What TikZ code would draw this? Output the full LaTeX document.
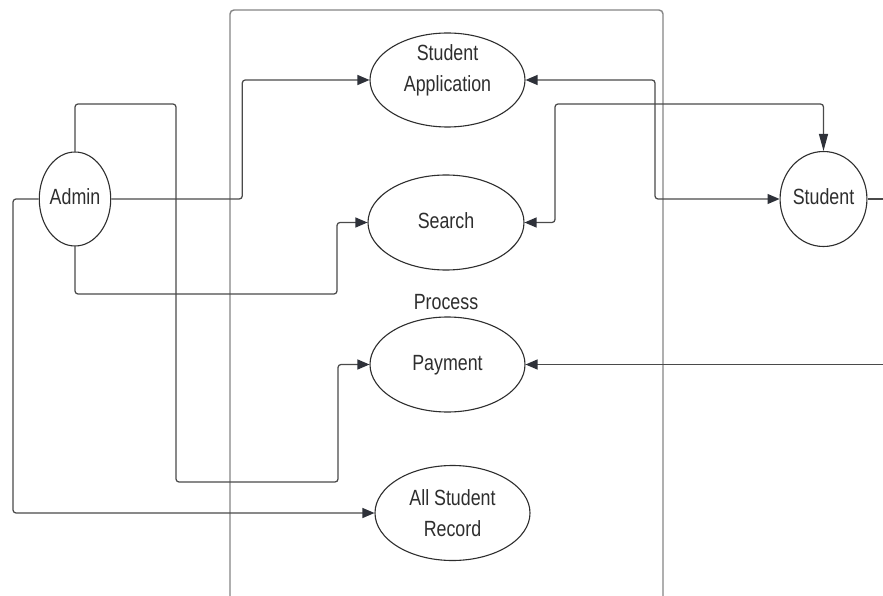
\documentclass[tikz,border=0pt]{standalone}
\usepackage{fontspec}
\setmainfont{Liberation Sans}[FakeStretch=0.81]
\usetikzlibrary{arrows.meta,shapes.geometric}
\definecolor{linegray}{HTML}{4A4A4A}
\definecolor{framegray}{HTML}{858585}
\definecolor{inkdark}{HTML}{2E2E2E}
\definecolor{tipdark}{HTML}{2E3139}
\begin{document}
\begin{tikzpicture}[x=1pt,y=-1pt,
  casefont/.style={text=inkdark,font=\fontsize{22}{31}\selectfont,align=center},
  usecase/.style={ellipse,draw=inkdark,line width=1.1pt,inner sep=0pt,casefont},
  oneline/.style={text height=15.8pt,text depth=4.6pt},
  conn/.style={draw=linegray,line width=1.25pt,rounded corners=3pt},
  frame/.style={draw=framegray,line width=1.4pt,rounded corners=4pt},
  tipend/.style={-{Triangle[length=12pt,width=10pt,color=tipdark]}},
  tipboth/.style={{Triangle[length=12pt,width=10pt,color=tipdark]}-{Triangle[length=12pt,width=10pt,color=tipdark]}},
  tipdown/.style={{Triangle[length=12pt,width=10pt,color=tipdark]}-{Triangle[length=17pt,width=9pt,color=tipdark]}}
]
\useasboundingbox (0,0) rectangle (883,596);
\fill[white] (0,0) rectangle (883,596);
\clip (0,0) rectangle (883,596);

% system boundary, open at the bottom
\draw[frame] (230,620) -- (230,10) -- (663,10) -- (663,620);

% actors
\node[usecase,oneline,minimum width=63pt,minimum height=94pt] (admin) at (75,199) {Admin};
\node[usecase,oneline,minimum width=73pt,minimum height=95pt] (student) at (823.5,199) {Student};

% use cases
\node[usecase,minimum width=155pt,minimum height=94pt] (app) at (447.5,80) {};
\node[casefont] (apptext) at (447.5,70) {Student\\Application};
\node[usecase,oneline,minimum width=156pt,minimum height=95pt] (search) at (446,222.5) {Search};
\node[casefont,anchor=base] (proclabel) at (446,309) {Process};
\node[usecase,oneline,minimum width=155pt,minimum height=95pt] (pay) at (447.5,364.5) {Payment};
\node[usecase,minimum width=155pt,minimum height=95pt] (record) at (452.5,513) {All Student\\Record};

% free ends leaving the picture on the right
\coordinate (outS) at (895,199);
\coordinate (outP) at (895,364.5);

% admin connectors
\draw[conn,tipend] (admin.east) -- ++(131,0) |- (app.west);
\draw[conn,tipend] (admin.north) |- (176,104) |- (338,482) |- (pay.west);
\draw[conn,tipend] (admin.south) |- (337,294) |- (search.west);
\draw[conn,tipend] (admin.west) -| (13,513) -- (record.west);

% student connectors
\draw[conn,tipboth] (app.east) -| (655,199) -- (student.west);
\draw[conn,tipdown] (search.east) -| (555,104) -| (student.north);
\draw[conn] (student.east) -- (outS);
\draw[conn,tipend] (outP) -- (pay.east);
\end{tikzpicture}
\end{document}
